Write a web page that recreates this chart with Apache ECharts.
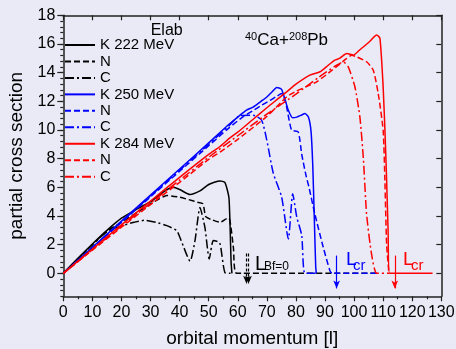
<!DOCTYPE html>
<html>
<head>
<meta charset="utf-8">
<script src="https://cdn.jsdelivr.net/npm/echarts@6/dist/echarts.min.js"></script>
<style>
html,body{margin:0;padding:0;background:#eaeaf6;}
#chart{width:456px;height:349px;}
</style>
</head>
<body>
<div id="chart"></div>
<script>
// Partial cross sections of 40Ca+208Pb versus orbital momentum l
const yLabelValues = [0, 2, 4, 6, 8, 10, 12, 14, 16, 18];
const yMinorValues = [-1.6,-1.2,-0.8,-0.4,0,0.4,0.8,1.2,1.6,2,2.4,2.8,3.2,3.6,4,4.4,4.8,5.2,5.6,6,6.4,6.8,7.2,7.6,8,8.4,8.8,9.2,9.6,10,10.4,10.8,11.2,11.6,12,12.4,12.8,13.2,13.6,14,14.4,14.8,15.2,15.6,16,16.4,16.8,17.2,17.6,18];

// Elab = 222 MeV
const lK222 = [0,5,10,15,20,25,30,35,37.7,40,43.6,47,50,53.9,55.5,56.3,57.0,57.4,57.7,58];
const vK222 = [0,1.05,2.05,3.0,3.85,4.45,5.0,5.75,6.0,5.85,5.5,5.75,6.2,6.45,6.35,5.9,5.2,3.0,0.8,0];
const lN222 = [0,5,10,15,20,23,26.4,30,33,35.6,40,43,46,48,49,51,54,56,57,58.5,59.6,108];
const vN222 = [0,1.0,2.0,2.95,3.55,3.95,4.38,4.85,5.2,5.43,5.31,5.15,4.97,4.85,3.95,3.75,3.57,3.8,3.85,1.8,0,0];
const lC222 = [0,5,10,15,17.5,20,24,28,32,35.6,39,40.5,43.6,45.3,47,48.7,50.2,51.6,53.3,54,55.6,57.5];
const vC222 = [0,1.0,2.0,2.9,3.15,3.3,3.55,3.7,3.55,3.33,2.98,2.3,0.85,2.3,4.6,3.2,1.0,2.3,2.2,2.0,0.05,0];

// Elab = 250 MeV
const lK250 = [0,10,20,30,40,50,57,60,63,65.3,68,70,72,73.4,75,76,77.4,78.9,80.3,82,83.1,84.3,85.2,85.8,86.3,86.8,87];
const vK250 = [0,1.82,3.64,5.46,7.28,9.1,10.4,10.9,11.38,11.6,12.0,12.3,12.7,12.96,12.85,12.3,11.38,10.85,10.9,11.05,11.15,10.9,9.9,7.5,4,0.5,0];
const lN250 = [0,10,20,30,40,50,57,62,65.3,68,71,73,75.1,76.5,78.5,80.8,82,83.5,84.5,86.5,89.4,91.7,92.5,108];
const vN250 = [0,1.78,3.56,5.34,7.12,8.9,10.15,10.95,11.35,11.7,12.05,12.3,12.55,11.9,10.0,9.86,8.3,6.8,6.0,4.15,1.82,0.19,0,0];
const lC250 = [0,10,20,30,40,50,57,60.8,65.3,68.2,70,72.2,75.1,77.4,78.9,80.3,82,83.1,87];
const vC250 = [0,1.8,3.6,5.4,7.2,9.0,10.3,11.0,11.03,10.68,9.28,7.0,5.31,2.4,5.55,3.92,2.64,0,0];

// Elab = 284 MeV
const lK284 = [0,10,20,30,40,50,53.9,57.3,60,65,70,74,76.8,80,84.8,88.3,91,93.4,95,97.5,99.7,102,105,107.8,108.9,110,110.7,111.2,111.7,112.2,127];
const vK284 = [0,1.7,3.38,5.05,6.7,8.3,8.85,9.45,9.85,10.7,11.55,12.2,12.66,13.2,13.83,14.06,14.5,14.87,15.0,15.34,15.22,15.6,16.1,16.62,16.39,13.0,9.5,6.48,3,0,0];
const lN284 = [0,10,20,30,40,50,53.9,60,70,76.8,80,87.1,92,97.5,99.2,100.9,104.3,106.6,108.3,110,110.6,111.2,112];
const vN284 = [0,1.62,3.22,4.8,6.35,7.95,8.46,9.35,10.95,12.3,12.7,13.36,14.1,14.99,15.22,15.1,14.76,14.17,12.55,9.98,6.48,2,0];
const lC284 = [0,10,20,30,40,50,60,70,80,88,94,96.3,98,100.3,102,103.2,104.3,106,107.8,112];
const vC284 = [0,1.65,3.3,4.9,6.5,8.1,9.6,11.1,12.5,13.7,14.52,14.75,14.4,13.0,10.9,8.0,4.15,1.36,0,0];

// vertical markers: L(Bf=0) pair, Lcr at 250 MeV, Lcr at 284 MeV
const markerL = [63, 63.7, 94, 114];
const markerTop = [1.38, 1.38, 1.24, 1.24];
const markerBottom = [-0.72, -0.72, -1.05, -1.05];

const FONT = 'Liberation Sans, Arial, sans-serif';
const BLACK = '#000000', BLUE = '#0000ff', RED = '#ff0000';
const DASH = [6, 3], DASHDOT = [9, 3, 2, 3];

function pts(ls, vs) { return ls.map((l, i) => [l, vs[i]]); }

function curve(name, ls, vs, color, type) {
  return {
    name: name, type: 'line', xAxisIndex: 0, yAxisIndex: 0,
    data: pts(ls, vs), symbol: 'none', smooth: 0.2,
    lineStyle: { color: color, width: 1.5, type: type },
    itemStyle: { color: color },
    animation: false, silent: true
  };
}

const series = [
  curve('K 222 MeV', lK222, vK222, BLACK, 'solid'),
  curve('N 222', lN222, vN222, BLACK, DASH),
  curve('C 222', lC222, vC222, BLACK, DASHDOT),
  curve('K 250 MeV', lK250, vK250, BLUE, 'solid'),
  curve('N 250', lN250, vN250, BLUE, DASH),
  curve('C 250', lC250, vC250, BLUE, DASHDOT),
  curve('K 284 MeV', lK284, vK284, RED, 'solid'),
  curve('N 284', lN284, vN284, RED, DASH),
  curve('C 284', lC284, vC284, RED, DASHDOT)
];

const markerColors = [BLACK, BLACK, BLUE, RED];
const markerTypes = [[3, 2], [3, 2], 'solid', 'solid'];
series.push({
  name: 'markers', type: 'line', xAxisIndex: 0, yAxisIndex: 0, data: [],
  silent: true, animation: false,
  markLine: {
    silent: true, animation: false,
    symbol: ['none', 'arrow'], symbolSize: [5, 8],
    label: { show: false },
    data: markerL.map((l, i) => [
      { coord: [l, markerTop[i]], lineStyle: { color: markerColors[i], width: 1.2, type: markerTypes[i] } },
      { coord: [l, markerBottom[i]] }
    ])
  }
});

const axisLineStyle = { color: '#222', width: 1.5 };
const chart = echarts.init(document.getElementById('chart'), null, { renderer: 'canvas' });
chart.setOption({
  backgroundColor: '#eaeaf6',
  animation: false,
  textStyle: { fontFamily: FONT },
  grid: { left: 63.3, right: 14.7, top: 15.3, bottom: 52.7, containLabel: false, outerBoundsMode: 'none' },
  legend: {
    data: ['K 222 MeV', 'N 222', 'C 222', 'K 250 MeV', 'N 250', 'C 250', 'K 284 MeV', 'N 284', 'C 284'],
    orient: 'vertical', left: 64, top: 37, padding: 0,
    itemWidth: 30, itemHeight: 14, itemGap: 0.46,
    selectedMode: false,
    itemStyle: { color: 'rgba(0,0,0,0)', borderColor: 'rgba(0,0,0,0)', borderWidth: 0, opacity: 0 },
    formatter: n => n.charAt(0) === 'K' ? n : n.charAt(0),
    textStyle: { fontSize: 15, color: '#000', fontFamily: FONT, lineHeight: 16 }
  },
  xAxis: [
    {
      type: 'value', position: 'bottom', min: 0, max: 130, interval: 10,
      name: 'orbital momentum [l]', nameLocation: 'middle', nameGap: 33,
      nameTextStyle: { fontSize: 19, color: '#000', fontFamily: FONT },
      axisLine: { show: true, onZero: false, lineStyle: axisLineStyle },
      axisTick: { show: true, inside: false, length: 5, lineStyle: { color: '#222', width: 1.2 } },
      minorTick: { show: true, splitNumber: 2, length: 3, lineStyle: { color: '#222', width: 1.2 } },
      axisLabel: { fontSize: 16, color: '#000', margin: 8, fontFamily: FONT, hideOverlap: false },
      splitLine: { show: false }, minorSplitLine: { show: false }
    },
    {
      type: 'value', position: 'top', min: 0, max: 130, interval: 10,
      axisLine: { show: true, onZero: false, lineStyle: axisLineStyle },
      axisTick: { show: true, inside: true, length: 5, lineStyle: { color: '#222', width: 1.2 } },
      axisLabel: { show: false }, splitLine: { show: false }
    }
  ],
  yAxis: [
    {
      type: 'value', position: 'left', min: -1.6, max: 18,
      name: 'partial cross section', nameLocation: 'middle', nameGap: 36,
      nameTextStyle: { fontSize: 19, color: '#000', fontFamily: FONT },
      axisLine: { show: true, onZero: false, lineStyle: axisLineStyle },
      axisTick: { show: true, inside: false, length: 6, customValues: yLabelValues, lineStyle: { color: '#222', width: 1.2 } },
      axisLabel: { fontSize: 16, color: '#000', margin: 8, fontFamily: FONT, customValues: yLabelValues },
      splitLine: { show: false }
    },
    {
      type: 'value', position: 'left', min: -1.6, max: 18,
      axisLine: { show: false, onZero: false },
      axisTick: { show: true, inside: false, length: 3, customValues: yMinorValues, lineStyle: { color: '#222', width: 1.2 } },
      axisLabel: { show: false }, splitLine: { show: false }
    },
    {
      type: 'value', position: 'right', min: -1.6, max: 18,
      axisLine: { show: true, onZero: false, lineStyle: axisLineStyle },
      axisTick: { show: true, inside: true, length: 5, customValues: yLabelValues, lineStyle: { color: '#222', width: 1.2 } },
      axisLabel: { show: false }, splitLine: { show: false }
    }
  ],
  graphic: [
    { type: 'text', x: 166.7, y: 30.5, silent: true,
      style: { text: 'Elab', fontSize: 16, fontFamily: FONT, fill: '#000', align: 'center', verticalAlign: 'middle' } },
    { type: 'text', x: 245, y: 31, silent: true,
      style: {
        text: '{s|40}{b|Ca+}{s|208}{b|Pb}', fontFamily: FONT, fill: '#000',
        rich: {
          s: { fontSize: 11, lineHeight: 18, verticalAlign: 'top', fontFamily: FONT, fill: '#000' },
          b: { fontSize: 17, lineHeight: 18, verticalAlign: 'bottom', fontFamily: FONT, fill: '#000' }
        }
      } },
    { type: 'text', x: 255, y: 264, silent: true,
      style: { text: 'L', fontSize: 20, fontFamily: FONT, fill: '#000', verticalAlign: 'middle' } },
    { type: 'text', x: 264, y: 266.5, silent: true,
      style: { text: 'Bf=0', fontSize: 12, fontFamily: FONT, fill: '#000', verticalAlign: 'middle' } },
    { type: 'text', x: 346, y: 259.5, silent: true,
      style: { text: 'L', fontSize: 19, fontFamily: FONT, fill: BLUE, verticalAlign: 'middle' } },
    { type: 'text', x: 353, y: 265.5, silent: true,
      style: { text: 'cr', fontSize: 15, fontFamily: FONT, fill: BLUE, verticalAlign: 'middle' } },
    { type: 'text', x: 403, y: 260, silent: true,
      style: { text: 'L', fontSize: 19, fontFamily: FONT, fill: RED, verticalAlign: 'middle' } },
    { type: 'text', x: 411, y: 265.5, silent: true,
      style: { text: 'cr', fontSize: 15, fontFamily: FONT, fill: RED, verticalAlign: 'middle' } }
  ],
  series: series
});
</script>
</body>
</html>
